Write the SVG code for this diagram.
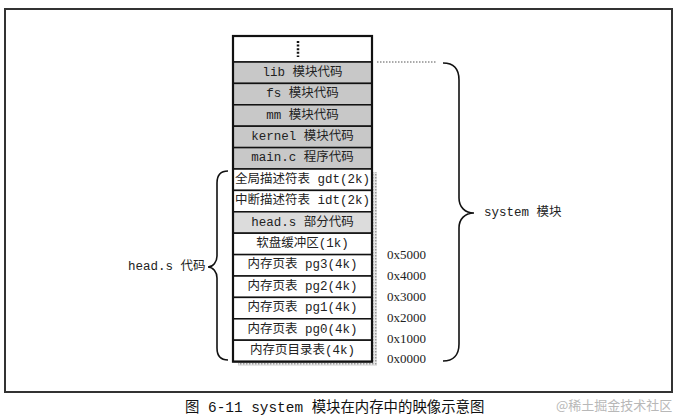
<svg xmlns="http://www.w3.org/2000/svg" width="680" height="420" viewBox="0 0 680 420">
<style>
.t{font-family:"Liberation Mono","Noto Sans CJK SC",monospace;font-size:12.5px;fill:#222;text-anchor:middle;dominant-baseline:central}
.h{font-family:"Liberation Serif","Noto Sans CJK SC",serif;font-size:13px;fill:#222;dominant-baseline:central}
.l{font-family:"Liberation Mono","Noto Sans CJK SC",monospace;font-size:12.5px;fill:#222;dominant-baseline:central}
.row{stroke:#111;stroke-width:1.5}
.w{fill:#fff}
.g{fill:#c8c8c8}
.lg{fill:#dcdcdc}
.br{fill:none;stroke:#111;stroke-width:1.6}
</style>
<defs>
<pattern id="dots" width="3" height="3" patternUnits="userSpaceOnUse">
<rect width="3" height="3" fill="#e6e6e6"/>
<rect width="1.5" height="1.5" fill="#9a9a9a"/>
</pattern>
</defs>
<rect width="680" height="420" fill="#fff"/>
<rect x="5" y="9" width="667" height="383" fill="none" stroke="#333" stroke-width="2"/>
<g id="shadow">
<rect x="372" y="172" width="5" height="194" fill="url(#dots)"/>
<rect x="238" y="362" width="139" height="4" fill="url(#dots)"/>
</g>
<g id="memory">
<g id="row-top"><rect class="row w" x="233" y="36" width="139" height="26"/><line x1="298" y1="41" x2="298" y2="57" stroke="#111" stroke-width="2.5" stroke-dasharray="2,1.6"/></g>
<g id="row-lib"><rect class="row g" x="233" y="62" width="139" height="21.4"/><text class="t" x="302.5" y="72.7">lib 模块代码</text></g>
<g id="row-fs"><rect class="row g" x="233" y="83.4" width="139" height="21.4"/><text class="t" x="302.5" y="94.1">fs 模块代码</text></g>
<g id="row-mm"><rect class="row g" x="233" y="104.8" width="139" height="21.4"/><text class="t" x="302.5" y="115.5">mm 模块代码</text></g>
<g id="row-kernel"><rect class="row g" x="233" y="126.2" width="139" height="21.4"/><text class="t" x="302.5" y="136.9">kernel 模块代码</text></g>
<g id="row-main"><rect class="row g" x="233" y="147.6" width="139" height="21.4"/><text class="t" x="302.5" y="158.3">main.c 程序代码</text></g>
<g id="row-gdt"><rect class="row w" x="233" y="169" width="139" height="21.4"/><text class="t" x="302.5" y="179.7">全局描述符表 gdt(2k)</text></g>
<g id="row-idt"><rect class="row w" x="233" y="190.4" width="139" height="21.4"/><text class="t" x="302.5" y="201.1">中断描述符表 idt(2k)</text></g>
<g id="row-head"><rect class="row lg" x="233" y="211.8" width="139" height="21.4"/><text class="t" x="302.5" y="222.5">head.s 部分代码</text></g>
<g id="row-floppy"><rect class="row w" x="233" y="233.2" width="139" height="21.4"/><text class="t" x="302.5" y="243.9">软盘缓冲区(1k)</text></g>
<g id="row-pg3"><rect class="row w" x="233" y="254.6" width="139" height="21.4"/><text class="t" x="302.5" y="265.3">内存页表 pg3(4k)</text></g>
<g id="row-pg2"><rect class="row w" x="233" y="276" width="139" height="21.4"/><text class="t" x="302.5" y="286.7">内存页表 pg2(4k)</text></g>
<g id="row-pg1"><rect class="row w" x="233" y="297.4" width="139" height="21.4"/><text class="t" x="302.5" y="308.1">内存页表 pg1(4k)</text></g>
<g id="row-pg0"><rect class="row w" x="233" y="318.8" width="139" height="21.4"/><text class="t" x="302.5" y="329.5">内存页表 pg0(4k)</text></g>
<g id="row-dir"><rect class="row w" x="233" y="340.2" width="139" height="21.4"/><text class="t" x="302.5" y="350.9">内存页目录表(4k)</text></g>
<rect x="233" y="36" width="139" height="325.6" fill="none" stroke="#111" stroke-width="2.2"/>
</g>
<g id="connectors">
<line x1="377" y1="62" x2="436" y2="62" stroke="#555" stroke-width="1" stroke-dasharray="1.5,1.5"/>
<path class="br" d="M443,63 C453,63 459,68 459,80 L459,198 C459,207 465,213 474,213 C465,213 459,219 459,228 L459,344 C459,355 453,361 443,361"/>
<path class="br" d="M228,171 C221,171 217,175 217,183 L217,256 C217,262 213,267 208,267 C213,267 217,272 217,278 L217,348 C217,356 221,360 228,360"/>
</g>
<g id="labels">
<text class="l" x="484" y="213">system 模块</text>
<text class="l" x="128" y="267">head.s 代码</text>
<text class="h" x="387" y="254">0x5000</text>
<text class="h" x="387" y="275">0x4000</text>
<text class="h" x="387" y="296">0x3000</text>
<text class="h" x="387" y="317">0x2000</text>
<text class="h" x="387" y="338">0x1000</text>
<text class="h" x="387" y="358">0x0000</text>
</g>
<text x="185" y="408" font-family="Liberation Mono,'Noto Sans CJK SC',monospace" font-size="14.4" fill="#111" dominant-baseline="central">图 6-11 system 模块在内存中的映像示意图</text>
<text x="556" y="404" font-family="'Noto Sans CJK SC',sans-serif" font-size="13" fill="#b8b8b8" dominant-baseline="central">@稀土掘金技术社区</text>
</svg>
